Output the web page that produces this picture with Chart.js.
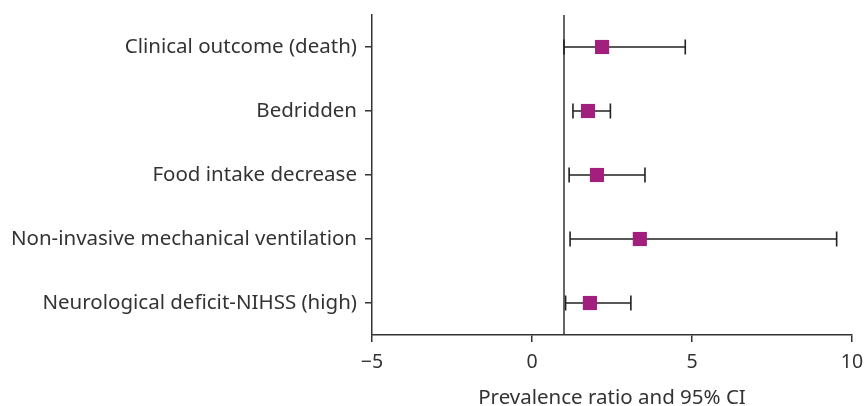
<!DOCTYPE html>
<html>
<head>
<meta charset="utf-8">
<script src="https://cdn.jsdelivr.net/npm/chart.js@4/dist/chart.umd.min.js"></script>
<style>
  html,body{margin:0;padding:0;background:#fff}
  #wrap{width:866px;height:406px}
</style>
</head>
<body>
<div id="wrap"><canvas id="forest" width="866" height="406"></canvas></div>
<script>
// dados
const outcomes = ['Clinical outcome (death)','Bedridden','Food intake decrease','Non-invasive mechanical ventilation','Neurological deficit-NIHSS (high)'];
const ratio = [2.19, 1.75, 2.03, 3.37, 1.81];
const ciLow = [1.0, 1.28, 1.16, 1.19, 1.05];
const ciHigh = [4.79, 2.45, 3.53, 9.52, 3.09];
const xTicks = [-5, 0, 5, 10];
const refValue = 1;

const ink = '#333';
const markColor = '#A31F7E';
const fontFam = '"Noto Sans", "Open Sans", sans-serif';

// linha de referência e barras de IC, desenhadas antes dos quadrados
const forestPlugin = {
  id: 'forest',
  beforeDatasetsDraw(chart){
    const {ctx, chartArea, scales:{x, y}} = chart;
    ctx.save();
    // linha vertical em 1
    const rx = x.getPixelForValue(refValue);
    ctx.strokeStyle = ink; ctx.lineWidth = 1.5;
    ctx.beginPath(); ctx.moveTo(rx, chartArea.top); ctx.lineTo(rx, chartArea.bottom); ctx.stroke();
    // intervalos de confiança
    ctx.strokeStyle = '#222'; ctx.lineWidth = 1.6;
    outcomes.forEach((o, i) => {
      const py = y.getPixelForValue(i);
      const x0 = x.getPixelForValue(ciLow[i]);
      const x1 = x.getPixelForValue(ciHigh[i]);
      ctx.beginPath();
      ctx.moveTo(x0, py); ctx.lineTo(x1, py);
      ctx.moveTo(x0, py - 7.5); ctx.lineTo(x0, py + 7.5);
      ctx.moveTo(x1, py - 7.5); ctx.lineTo(x1, py + 7.5);
      ctx.stroke();
    });
    ctx.restore();
  }
};

new Chart(document.getElementById('forest'), {
  type: 'scatter',
  data: {
    datasets: [{
      data: outcomes.map((o, i) => ({x: ratio[i], y: o})),
      pointStyle: 'rect',
      pointRadius: 10,
      pointBorderWidth: 0,
      backgroundColor: markColor,
      borderColor: markColor
    }]
  },
  options: {
    responsive: false,
    animation: false,
    events: [],
    layout: {padding: {top: 15, right: 14, left: 0, bottom: 0}},
    plugins: {legend: {display: false}, tooltip: {enabled: false}},
    scales: {
      x: {
        type: 'linear',
        min: -5, max: 10,
        afterBuildTicks: s => { s.ticks = xTicks.map(v => ({value: v})); },
        afterFit: s => { s.height = 71; s.paddingLeft = 0; s.paddingRight = 0; },
        grid: {drawOnChartArea: false, tickLength: 7, color: ink, lineWidth: 1.5},
        border: {color: ink, width: 1.5},
        ticks: {
          color: ink, padding: 9,
          font: {family: fontFam, size: 19.5},
          callback: v => String(v).replace('-', '\u2212')
        },
        title: {
          display: true, text: 'Prevalence ratio and 95% CI',
          color: ink, padding: {top: 10, bottom: -4},
          font: {family: fontFam, size: 20.5}
        }
      },
      y: {
        type: 'category',
        labels: outcomes,
        offset: true,
        afterFit: s => { s.width = 372; s.paddingTop = 0; s.paddingBottom = 0; },
        grid: {drawOnChartArea: false, tickLength: 7, color: ink, lineWidth: 1.5, offset: false},
        border: {color: ink, width: 1.5},
        ticks: {color: ink, padding: 8, font: {family: fontFam, size: 20.5}}
      }
    }
  },
  plugins: [forestPlugin]
});
</script>
</body>
</html>
